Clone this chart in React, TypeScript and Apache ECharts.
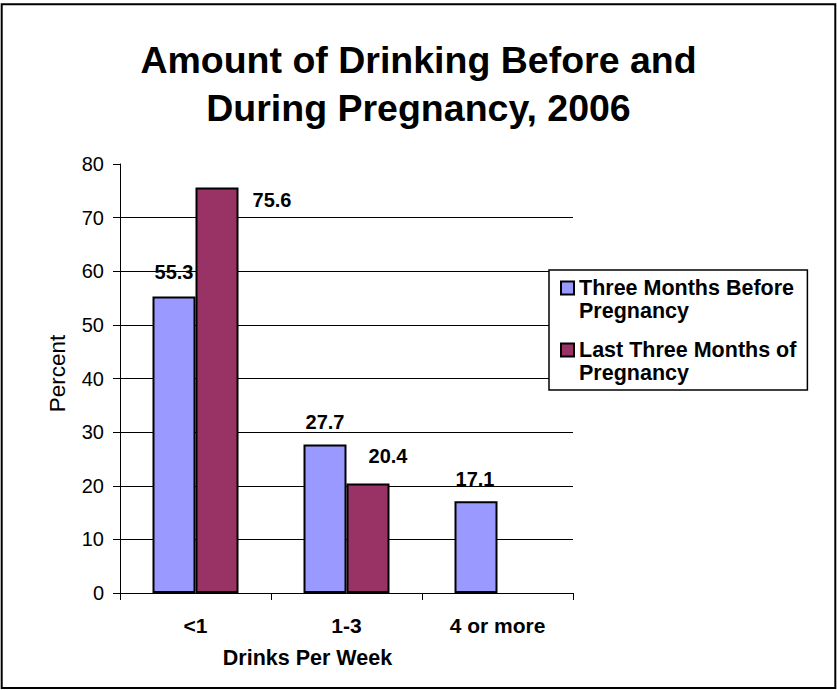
import React, { useEffect, useRef } from 'react';
import * as echarts from 'echarts';

const titleText = 'Amount of Drinking Before and\nDuring Pregnancy, 2006';
const categories = ['<1', '1-3', '4 or more'];
const seriesNames = ['Three Months Before\nPregnancy', 'Last Three Months of\nPregnancy'];
const beforeValues: (number | null)[] = [55.3, 27.7, 17.1];
const duringValues: (number | null)[] = [75.6, 20.4, null];
const yMin = 0;
const yMax = 80;
const yInterval = 10;
const yAxisName = 'Percent';
const xAxisName = 'Drinks Per Week';

const FONT = '"Liberation Sans", Arial, Helvetica, sans-serif';

export default function App() {
  const ref = useRef<HTMLDivElement>(null);

  useEffect(() => {
    if (!ref.current) return;
    const chart = echarts.init(ref.current, undefined, { renderer: 'svg' });

    // label offsets (Excel-like placement)
    const beforeOffsets = [[0, -2], [0, 0], [-1, 0]];
    const duringOffsets = [[55, 34], [20, -6], [0, 0]];

    const mk = (vals: (number | null)[], offs: number[][]) =>
      vals.map((v, i) =>
        v == null ? '-' : { value: v, label: { offset: offs[i] } }
      );

    const labelCommon = {
      show: true,
      position: 'top',
      distance: 12,
      fontFamily: FONT,
      fontWeight: 'bold',
      fontSize: 20,
      color: '#000',
    };

    chart.setOption({
      animation: false,
      backgroundColor: '#fff',
      title: {
        text: titleText,
        left: 'center',
        top: 36,
        padding: 0,
        textStyle: {
          fontFamily: FONT,
          fontWeight: 'bold',
          fontSize: 37.5,
          lineHeight: 48,
          color: '#000',
        },
      },
      graphic: [
        {
          type: 'rect',
          silent: true,
          shape: { x: 1.7, y: 4.3, width: 833.6, height: 683.7 },
          style: { fill: 'none', stroke: '#000', lineWidth: 2 },
        },
      ],
      legend: {
        orient: 'vertical',
        left: 549,
        top: 270,
        padding: [6.5, 11, 5.5, 11],
        itemWidth: 13,
        itemHeight: 36,
        itemGap: 16,
        icon: 'path://M0,0L10,0L10,10L0,10Z M0,27.7',
        borderColor: '#000',
        borderWidth: 1.5,
        backgroundColor: '#fff',
        itemStyle: { borderColor: '#000', borderWidth: 2 },
        textStyle: {
          fontFamily: FONT,
          fontWeight: 'bold',
          fontSize: 21.5,
          lineHeight: 23,
          color: '#000',
        },
        data: seriesNames,
      },
      grid: {
        left: 120,
        right: 264,
        top: 164,
        bottom: 97,
        containLabel: false,
      },
      xAxis: {
        type: 'category',
        data: categories,
        name: xAxisName,
        nameLocation: 'middle',
        nameGap: 54,
        nameTextStyle: {
          fontFamily: FONT,
          fontWeight: 'bold',
          fontSize: 21.5,
          color: '#000',
          padding: [0, 78, 0, 0],
        },
        axisLine: { show: true, lineStyle: { color: '#000', width: 1 } },
        axisTick: { show: true, length: 7, alignWithLabel: false, lineStyle: { color: '#000' } },
        axisLabel: {
          interval: 0,
          margin: 22,
          fontFamily: FONT,
          fontWeight: 'bold',
          fontSize: 21,
          color: '#000',
        },
        splitLine: { show: false },
      },
      yAxis: {
        type: 'value',
        min: yMin,
        max: yMax,
        interval: yInterval,
        name: yAxisName,
        nameLocation: 'middle',
        nameGap: 51,
        nameTextStyle: {
          fontFamily: FONT,
          fontSize: 22.5,
          color: '#000',
          padding: [0, 0, 0, 10],
        },
        axisLine: { show: true, lineStyle: { color: '#000', width: 1 } },
        axisTick: { show: true, length: 7, lineStyle: { color: '#000' } },
        axisLabel: {
          margin: 16,
          fontFamily: FONT,
          fontSize: 20,
          color: '#000',
        },
        splitLine: {
          show: true,
          showMinLine: false,
          showMaxLine: false,
          lineStyle: { color: '#000', width: 1 },
        },
      },
      series: [
        {
          type: 'bar',
          name: seriesNames[0],
          data: mk(beforeValues, beforeOffsets),
          barWidth: 43,
          barGap: '0%',
          itemStyle: { color: '#9999FF', borderColor: '#000', borderWidth: 2 },
          label: labelCommon,
        },
        {
          type: 'bar',
          name: seriesNames[1],
          data: mk(duringValues, duringOffsets),
          barWidth: 43,
          barGap: '0%',
          itemStyle: { color: '#993366', borderColor: '#000', borderWidth: 2 },
          label: labelCommon,
        },
      ],
    });

    return () => {
      chart.dispose();
    };
  }, []);

  return (
    <div
      ref={ref}
      style={{ position: 'absolute', left: 0, top: 0, width: 837, height: 690 }}
    />
  );
}
